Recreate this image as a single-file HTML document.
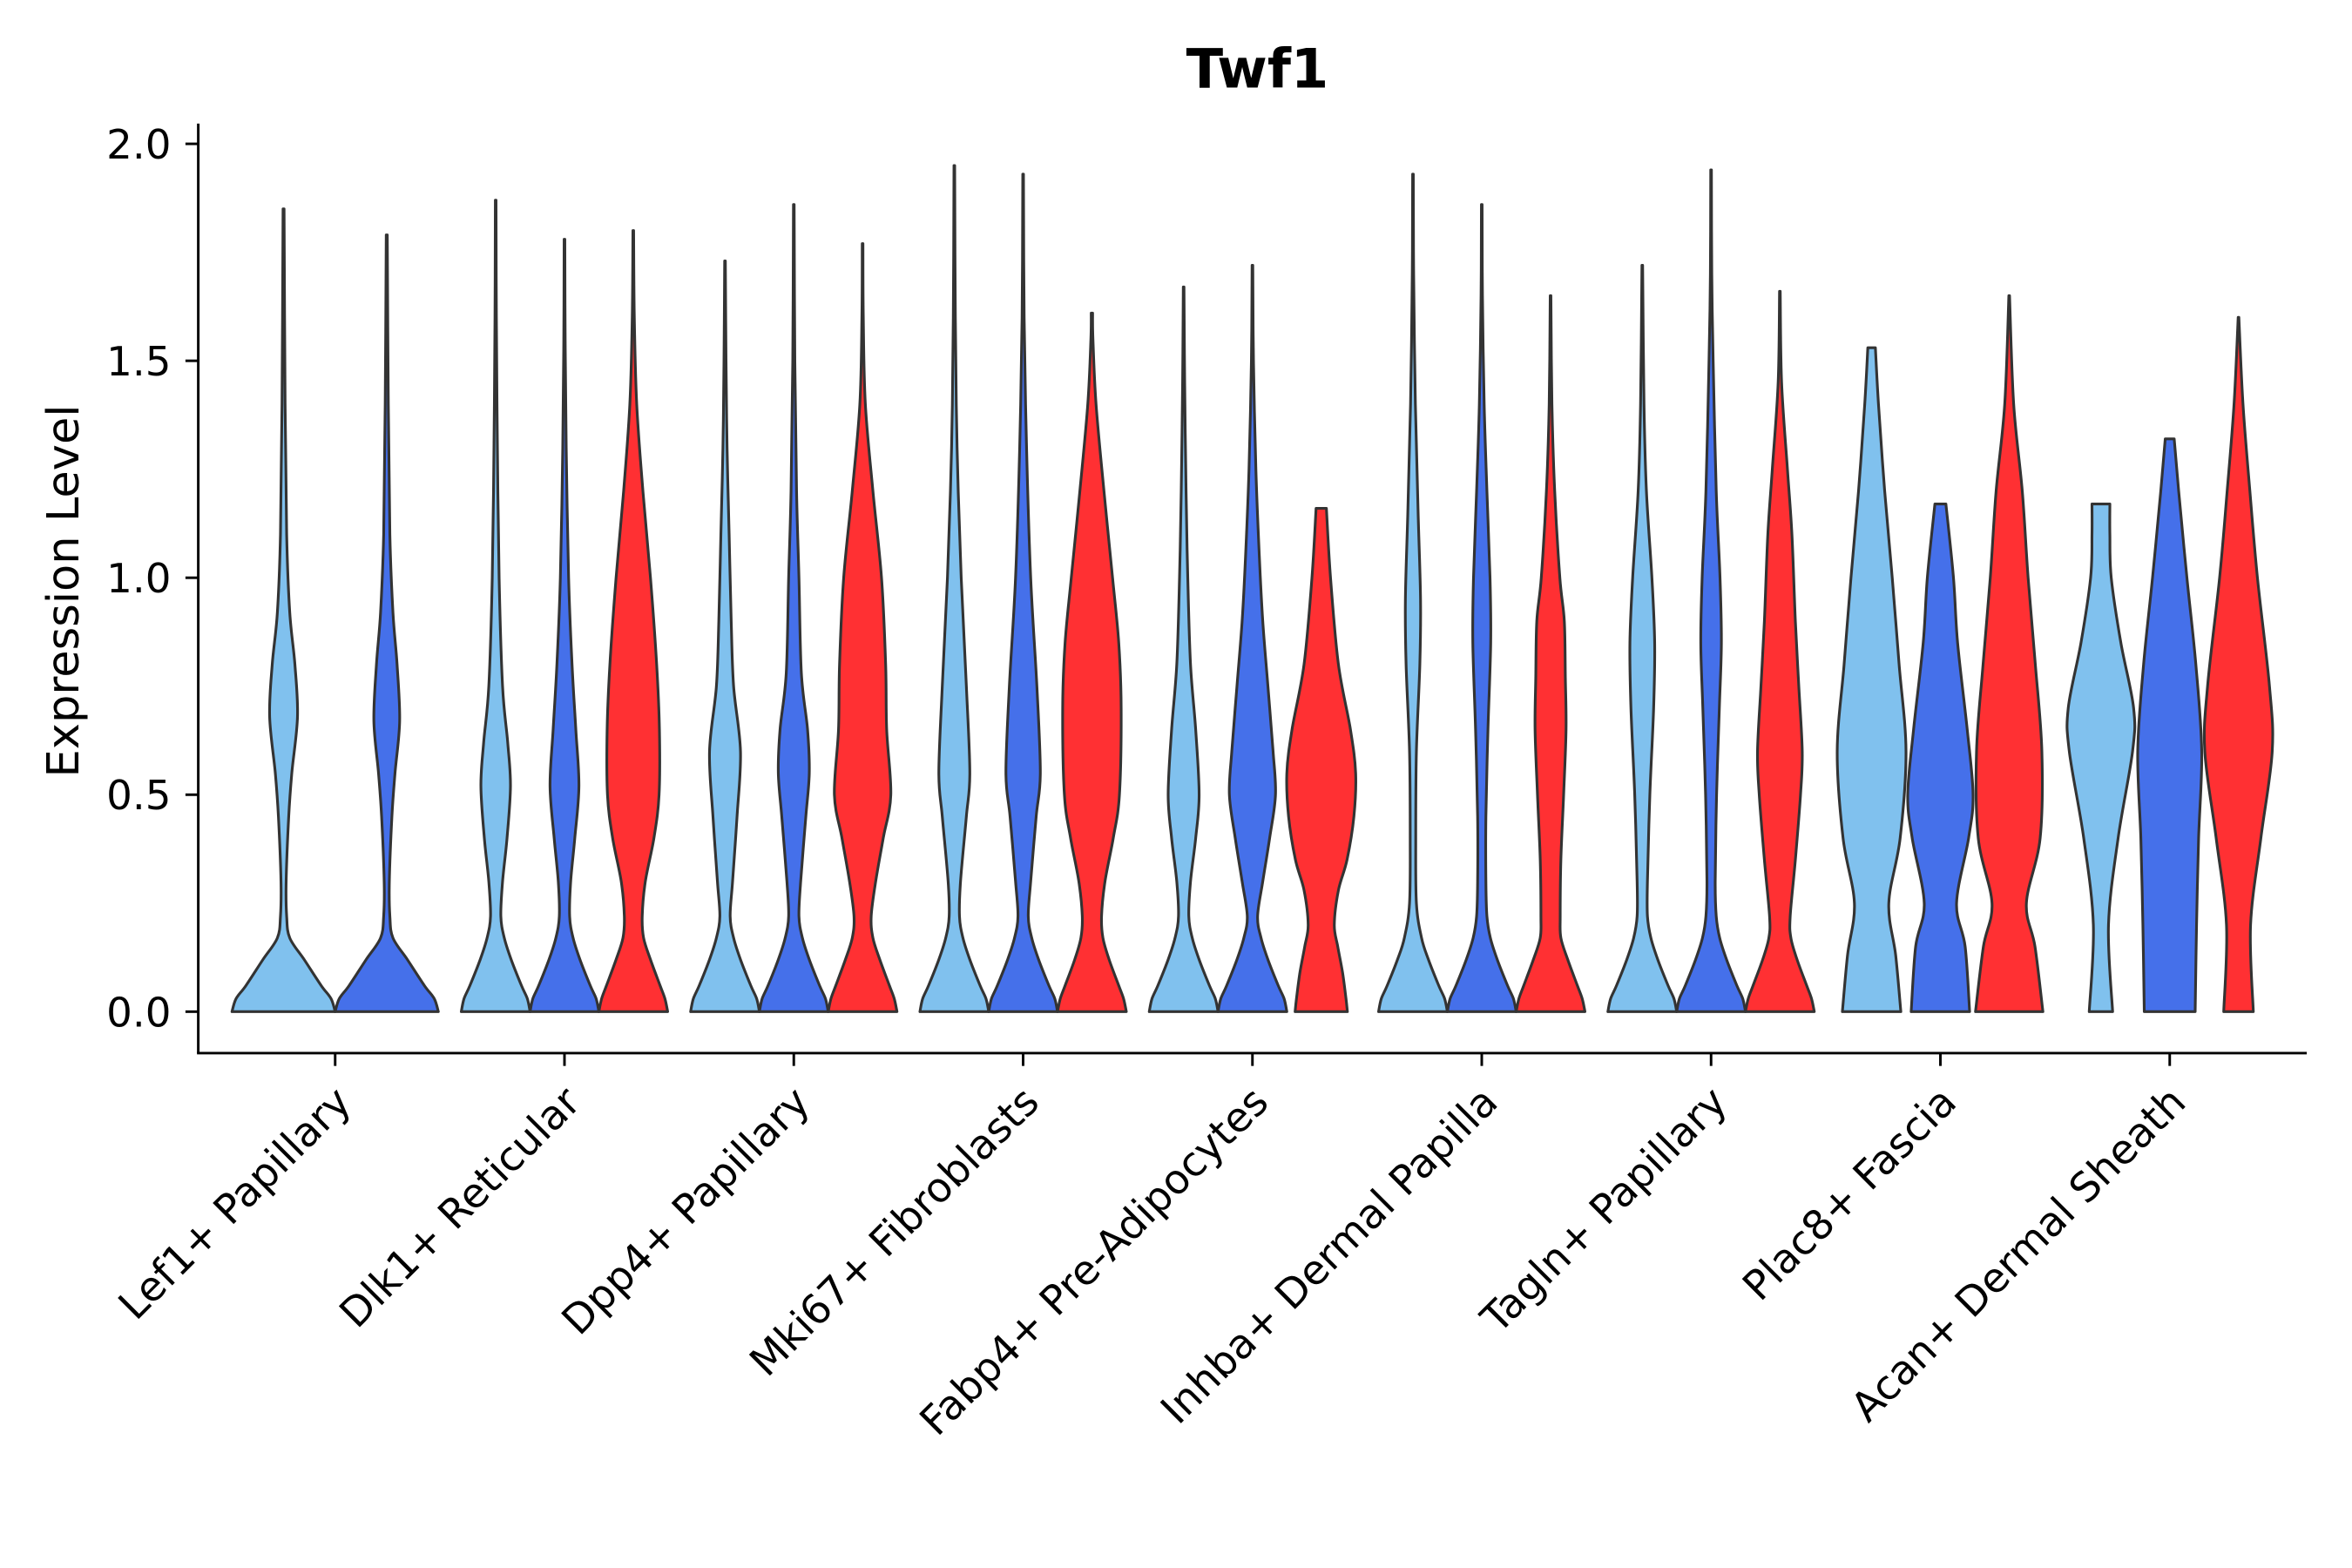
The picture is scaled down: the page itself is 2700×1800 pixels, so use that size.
<!DOCTYPE html>
<html><head><meta charset="utf-8">
<style>
html,body{margin:0;padding:0;background:#fff;}
svg{display:block;}
text{font-family:"DejaVu Sans","Liberation Sans",sans-serif;fill:#000;}
</style></head>
<body>
<svg id="chart" width="2700" height="1800" viewBox="0 0 1560 1040" xmlns="http://www.w3.org/2000/svg">
<text x="834" y="58" font-size="36" font-weight="bold" text-anchor="middle">Twf1</text>
<text transform="translate(52,392) rotate(-90)" font-size="29.5" text-anchor="middle">Expression Level</text>
<g id="plot"></g>
</svg>
<script>
const categories = ["Lef1+ Papillary","Dlk1+ Reticular","Dpp4+ Papillary","Mki67+ Fibroblasts","Fabp4+ Pre-Adipocytes","Inhba+ Dermal Papilla","Tagln+ Papillary","Plac8+ Fascia","Acan+ Dermal Sheath"];
const seriesColors = ["#80C1EE","#4570EA","#FF3033"];
const yTicks = [0,0.5,1.0,1.5,2.0];
const yTickLabels = ["0.0","0.5","1.0","1.5","2.0"];
// each violin: category index, series index, knot y values, relative half-widths
const violinCat = [0,0, 1,1,1, 2,2,2, 3,3,3, 4,4,4, 5,5,5, 6,6,6, 7,7,7, 8,8,8];
const violinSeries = [0,1, 0,1,2, 0,1,2, 0,1,2, 0,1,2, 0,1,2, 0,1,2, 0,1,2, 0,1,2];
const violinY = [
 [0,.03,.06,.12,.17,.22,.3,.45,.55,.68,.8,.92,1.1,1.4,1.85],
 [0,.03,.06,.12,.17,.22,.3,.45,.55,.67,.8,.92,1.1,1.4,1.79],
 [0,.03,.06,.12,.17,.22,.3,.4,.52,.62,.75,1.0,1.3,1.6,1.87],
 [0,.03,.06,.12,.17,.22,.3,.4,.52,.65,.8,1.0,1.3,1.55,1.78],
 [0,.03,.06,.12,.17,.22,.3,.4,.5,.65,.8,1.0,1.2,1.4,1.6,1.8],
 [0,.03,.06,.12,.17,.22,.3,.45,.6,.75,.9,1.1,1.3,1.5,1.73],
 [0,.03,.06,.12,.17,.22,.3,.45,.55,.65,.78,1.0,1.2,1.5,1.86],
 [0,.03,.06,.12,.17,.22,.3,.4,.5,.65,.8,1.0,1.2,1.4,1.6,1.77],
 [0,.03,.06,.12,.17,.22,.3,.45,.55,.75,1.0,1.3,1.6,1.95],
 [0,.03,.06,.12,.17,.22,.3,.45,.55,.75,1.0,1.3,1.6,1.93],
 [0,.03,.06,.12,.17,.22,.3,.4,.5,.7,.85,1.0,1.2,1.4,1.55,1.61],
 [0,.03,.06,.12,.17,.22,.3,.4,.5,.65,.8,1.0,1.2,1.45,1.67],
 [0,.03,.06,.12,.17,.22,.3,.4,.5,.6,.75,.9,1.05,1.25,1.5,1.72],
 [0,.03,.09,.15,.2,.28,.35,.45,.55,.65,.8,1.0,1.16],
 [0,.03,.06,.12,.17,.25,.4,.6,.8,.95,1.15,1.4,1.7,1.93],
 [0,.03,.06,.12,.17,.22,.3,.45,.65,.85,1.0,1.2,1.4,1.65,1.86],
 [0,.03,.06,.12,.17,.22,.35,.5,.65,.77,.9,1.0,1.2,1.4,1.65],
 [0,.03,.06,.12,.17,.22,.3,.5,.7,.85,1.0,1.2,1.4,1.72],
 [0,.03,.06,.12,.17,.22,.3,.5,.7,.85,1.0,1.2,1.5,1.7,1.94],
 [0,.03,.06,.12,.17,.22,.35,.5,.6,.75,.9,1.1,1.25,1.45,1.66],
 [0,.13,.25,.4,.6,.8,1.0,1.2,1.4,1.53],
 [0,.15,.25,.4,.5,.65,.85,1.0,1.17],
 [0,.15,.25,.4,.6,.8,1.0,1.2,1.4,1.65],
 [0,.2,.4,.6,.7,.85,1.0,1.1,1.17],
 [0,.2,.4,.6,.8,1.0,1.2,1.32],
 [0,.2,.4,.6,.75,1.0,1.2,1.4,1.6]
];
const violinW = [
 [1,.92,.73,.4,.12,.06,.05,.1,.16,.27,.22,.12,.06,.03,.01],
 [1,.92,.73,.4,.12,.06,.05,.1,.16,.25,.2,.12,.06,.03,.01],
 [1,.92,.75,.45,.25,.15,.2,.33,.43,.35,.2,.1,.05,.02,.01],
 [1,.92,.75,.45,.25,.15,.18,.3,.42,.33,.22,.12,.05,.02,.01],
 [1,.92,.78,.5,.3,.26,.35,.6,.75,.76,.68,.5,.28,.1,.03,.01],
 [1,.92,.75,.45,.25,.15,.22,.35,.45,.25,.18,.12,.06,.03,.01],
 [1,.92,.75,.45,.25,.15,.2,.35,.45,.4,.22,.15,.08,.03,.01],
 [1,.92,.78,.5,.3,.25,.38,.6,.82,.7,.67,.55,.3,.08,.02,.01],
 [1,.92,.75,.45,.25,.15,.18,.35,.45,.35,.2,.08,.03,.01],
 [1,.92,.75,.45,.25,.15,.22,.38,.5,.4,.22,.1,.03,.01],
 [1,.92,.78,.5,.32,.28,.38,.62,.8,.85,.78,.6,.35,.12,.03,.02],
 [1,.92,.75,.45,.25,.15,.2,.35,.45,.35,.2,.12,.07,.03,.01],
 [1,.92,.75,.45,.25,.15,.3,.5,.67,.6,.45,.3,.2,.1,.03,.01],
 [.76,.72,.62,.48,.38,.5,.75,.95,1.0,.85,.5,.27,.15],
 [1,.92,.75,.45,.25,.1,.08,.1,.2,.22,.15,.07,.02,.01],
 [1,.92,.75,.45,.25,.15,.12,.12,.18,.26,.24,.15,.07,.02,.01],
 [1,.92,.78,.5,.3,.28,.3,.38,.45,.43,.4,.27,.12,.04,.01],
 [1,.92,.75,.45,.25,.15,.15,.22,.33,.36,.28,.12,.05,.01],
 [1,.92,.75,.45,.25,.15,.12,.16,.24,.3,.26,.15,.06,.02,.01],
 [1,.92,.78,.5,.32,.3,.45,.6,.65,.55,.45,.35,.22,.05,.01],
 [.85,.7,.5,.83,1.0,.8,.6,.38,.2,.11],
 [.85,.72,.47,.82,.95,.78,.5,.38,.16],
 [.98,.75,.5,.9,.95,.76,.55,.38,.13,.01],
 [.34,.22,.5,.92,.95,.58,.3,.26,.26],
 [.74,.78,.84,.93,.76,.5,.26,.13],
 [.43,.35,.65,.98,.9,.55,.33,.13,.01]
];

const NS = "http://www.w3.org/2000/svg";
const plot = document.getElementById('plot');
const X0 = 222.3, XSTEP = 152.1, Y0PIX = 671, YUNIT = 287.8;
const AX_LEFT = 131.5, AX_BOTTOM = 698.5, AX_RIGHT = 1530, AX_TOP = 82;
function xScale(i){ return X0 + i*XSTEP; }
function yScale(v){ return Y0PIX - v*YUNIT; }
function mk(tag, attrs){ const e=document.createElementNS(NS,tag); for(const k in attrs) e.setAttribute(k,attrs[k]); return e; }

function spline(pts){
  let d = "";
  for(let i=0;i<pts.length-1;i++){
    const p0=pts[Math.max(i-1,0)], p1=pts[i], p2=pts[i+1], p3=pts[Math.min(i+2,pts.length-1)];
    const c1x=p1[0]+(p2[0]-p0[0])/6, c1y=p1[1]+(p2[1]-p0[1])/6;
    const c2x=p2[0]-(p3[0]-p1[0])/6, c2y=p2[1]-(p3[1]-p1[1])/6;
    d += ` C${c1x.toFixed(2)},${c1y.toFixed(2)} ${c2x.toFixed(2)},${c2y.toFixed(2)} ${p2[0].toFixed(2)},${p2[1].toFixed(2)}`;
  }
  return d;
}

// violins
const dodge = XSTEP*0.9;
for(let v=0; v<violinCat.length; v++){
  const c = violinCat[v];
  const nInCat = violinCat.filter(x=>x===c).length;
  const idx = violinCat.slice(0,v).filter(x=>x===c).length;
  const slot = dodge/nInCat;
  const cx = xScale(c) - dodge/2 + slot*(idx+0.5);
  const hw = slot/2;
  const ys = violinY[v], ws = violinW[v];
  const left = ys.map((y,k)=>[cx - ws[k]*hw, yScale(y)]);
  const right = ys.map((y,k)=>[cx + ws[k]*hw, yScale(y)]).reverse();
  let d = `M${left[0][0].toFixed(2)},${left[0][1].toFixed(2)}` + spline(left) +
          ` L${right[0][0].toFixed(2)},${right[0][1].toFixed(2)}` + spline(right) + " Z";
  const p = mk('path',{d:d, fill:seriesColors[violinSeries[v]], stroke:'#333333', 'stroke-width':1.8, 'stroke-linejoin':'round'});
  
  
  plot.appendChild(p);
}

// axes
const yAxis = mk('line',{x1:AX_LEFT,y1:AX_TOP,x2:AX_LEFT,y2:AX_BOTTOM,stroke:'#000','stroke-width':1.7});


plot.appendChild(yAxis);
const xAxis = mk('line',{x1:AX_LEFT-0.85,y1:AX_BOTTOM,x2:AX_RIGHT,y2:AX_BOTTOM,stroke:'#000','stroke-width':1.7});


plot.appendChild(xAxis);

yTicks.forEach((t,i)=>{
  const y = yScale(t);
  const tk = mk('line',{x1:AX_LEFT-8.5,y1:y,x2:AX_LEFT,y2:y,stroke:'#000','stroke-width':1.7});
  
  
  plot.appendChild(tk);
  const lb = mk('text',{x:113.5,y:y+9.8,'font-size':27,'text-anchor':'end'});
  lb.textContent = yTickLabels[i];
  
  
  plot.appendChild(lb);
});

categories.forEach((c,i)=>{
  const x = xScale(i);
  const tk = mk('line',{x1:x,y1:AX_BOTTOM,x2:x,y2:AX_BOTTOM+8.5,stroke:'#000','stroke-width':1.7});
  
  
  plot.appendChild(tk);
  const lb = mk('text',{transform:`translate(${x+12},${AX_BOTTOM+34}) rotate(-45)`,'font-size':27,'text-anchor':'end'});
  lb.textContent = c;
  
  
  plot.appendChild(lb);
});
</script>
</body></html>
